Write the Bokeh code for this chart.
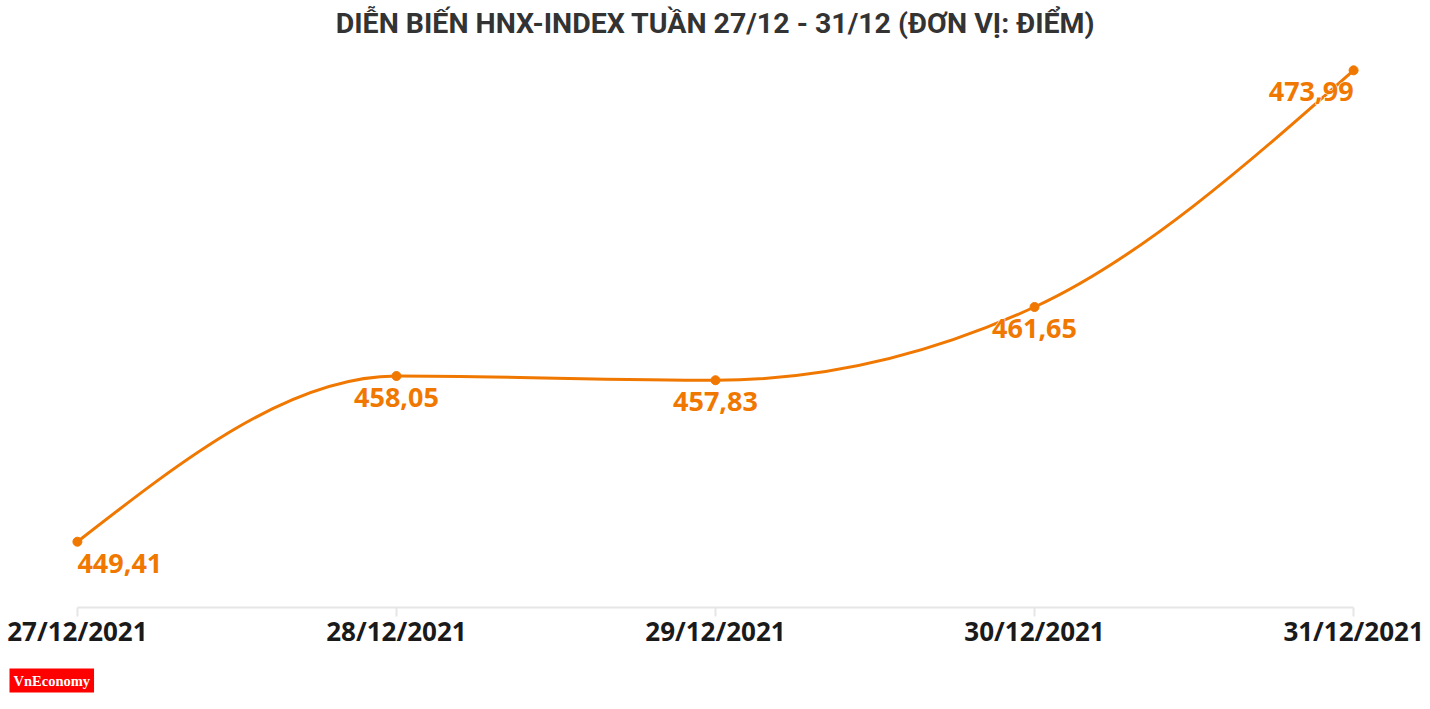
import numpy as np
from bokeh.plotting import figure
from bokeh.models import Range1d, FixedTicker, ColumnDataSource, Title
from bokeh.core.properties import value
from bokeh.embed import file_html
from bokeh.resources import INLINE

dates = ["27/12/2021", "28/12/2021", "29/12/2021", "30/12/2021", "31/12/2021"]
values = [449.41, 458.05, 457.83, 461.65, 473.99]
labels = ["449,41", "458,05", "457,83", "461,65", "473,99"]
label_align = ["left", "center", "center", "center", "right"]
title_text = "DIỄN BIẾN HNX-INDEX TUẦN 27/12 - 31/12 (ĐƠN VỊ: ĐIỂM)"

ORANGE = "#f07800"
xs = list(range(len(values)))


def monotone_tangents(xv, yv):
    n = len(xv)
    t = [0.0] * n
    for i in range(1, n - 1):
        h0 = xv[i] - xv[i - 1]
        h1 = xv[i + 1] - xv[i]
        s0 = (yv[i] - yv[i - 1]) / h0
        s1 = (yv[i + 1] - yv[i]) / h1
        p = (s0 * h1 + s1 * h0) / (h0 + h1)
        t[i] = (np.sign(s0) + np.sign(s1)) * min(abs(s0), abs(s1), 0.5 * abs(p))
    t[0] = (3 * (yv[1] - yv[0]) / (xv[1] - xv[0]) - t[1]) / 2
    t[-1] = (3 * (yv[-1] - yv[-2]) / (xv[-1] - xv[-2]) - t[-2]) / 2
    return t


tan = monotone_tangents(xs, values)
seg = dict(x0=[], y0=[], x1=[], y1=[], cx0=[], cy0=[], cx1=[], cy1=[])
for i in range(len(xs) - 1):
    dx = (xs[i + 1] - xs[i]) / 3
    seg["x0"].append(xs[i]); seg["y0"].append(values[i])
    seg["x1"].append(xs[i + 1]); seg["y1"].append(values[i + 1])
    seg["cx0"].append(xs[i] + dx); seg["cy0"].append(values[i] + dx * tan[i])
    seg["cx1"].append(xs[i + 1] - dx); seg["cy1"].append(values[i + 1] - dx * tan[i + 1])

p = figure(width=1430, height=709,
           x_range=Range1d(-0.1, 4.1), y_range=Range1d(445.98, 475.39),
           output_backend="svg", toolbar_location=None,
           min_border_left=45, min_border_right=45,
           min_border_top=40, min_border_bottom=102)
p.title = Title(text=title_text, align="center", text_font="Roboto",
                text_font_style="bold", text_font_size="28.5px", text_color="#333333",
                standoff=8)
p.outline_line_color = None
p.grid.visible = False
p.yaxis.visible = False
p.background_fill_color = "white"
p.border_fill_color = "white"

ax = p.xaxis[0]
ax.ticker = FixedTicker(ticks=xs)
ax.bounds = (xs[0], xs[-1])
ax.major_label_overrides = {i: d for i, d in zip(xs, dates)}
ax.axis_line_color = "#e6e6e6"
ax.axis_line_width = 2
ax.major_tick_line_color = "#e6e6e6"
ax.major_tick_line_width = 2
ax.major_tick_out = 9
ax.major_tick_in = 0
ax.minor_tick_line_color = None
ax.major_label_standoff = -4
ax.major_label_text_font = "Open Sans"
ax.major_label_text_font_style = "bold"
ax.major_label_text_font_size = "26px"
ax.major_label_text_color = "#1a1a1a"

p.bezier(x0="x0", y0="y0", x1="x1", y1="y1", cx0="cx0", cy0="cy0", cx1="cx1", cy1="cy1",
         source=ColumnDataSource(seg), line_color=ORANGE, line_width=3)
p.scatter(xs, values, size=9, color=ORANGE)

src = ColumnDataSource(dict(x=xs, y=values, t=labels, a=label_align))
# white halo below the labels
p.text(x="x", y="y", text="t", text_align="a", source=src, text_baseline="top",
       y_offset=12, text_font=value("Open Sans"), text_font_style=value("bold"),
       text_font_size=value("27px"), text_color="white",
       text_outline_color="white")
p.text(x="x", y="y", text="t", text_align="a", source=src, text_baseline="top",
       y_offset=12, text_font=value("Open Sans"), text_font_style=value("bold"),
       text_font_size=value("27px"), text_color=ORANGE)

logo = Title(text="VnEconomy", align="left", offset=-36, standoff=30,
             vertical_align="bottom",
             text_font="Liberation Serif", text_font_style="bold", text_font_size="14.5px",
             text_color="white", background_fill_color="#ff0000", padding=4)
p.add_layout(logo, "below")

open("out.html", "w").write(file_html(p, INLINE))
